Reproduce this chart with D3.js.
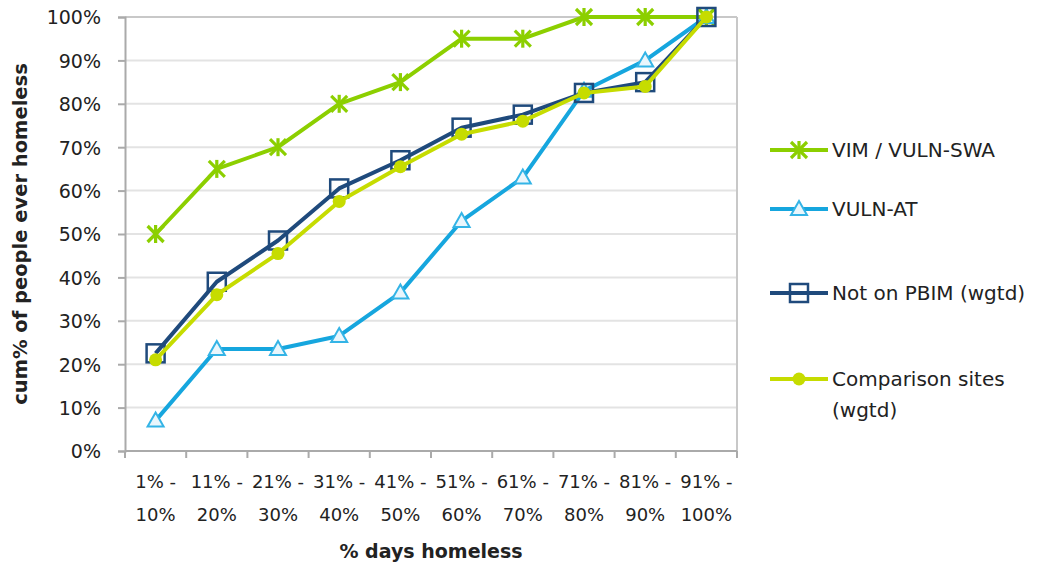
<!DOCTYPE html>
<html>
<head>
<meta charset="utf-8">
<script src="https://cdn.jsdelivr.net/npm/d3@7"></script>
<style>
  html, body { margin: 0; padding: 0; background: #fff; }
  svg { display: block; }
  text { font-family: "DejaVu Sans", sans-serif; fill: #222; }
</style>
</head>
<body>
<svg id="chart" width="1051" height="569"></svg>
<script>
// Bands of the share of days spent homeless
const categories = ["1% -|10%", "11% -|20%", "21% -|30%", "31% -|40%", "41% -|50%",
                    "51% -|60%", "61% -|70%", "71% -|80%", "81% -|90%", "91% -|100%"];

// Cumulative % of people ever homeless, per group
const vimSwa      = [50, 65, 70, 80, 85, 95, 95, 100, 100, 100];
const vulnAt      = [7, 23.5, 23.5, 26.5, 36.5, 53, 63, 83, 90, 100];
const notOnPbim   = [22.5, 39, 48.5, 60.5, 67, 74.5, 77.5, 82.5, 85, 100];
const comparison  = [21, 36, 45.5, 57.5, 65.5, 73, 76, 82.5, 84, 100];

const yTicks = [0, 10, 20, 30, 40, 50, 60, 70, 80, 90, 100];

const series = [
  { name: ["VIM / VULN-SWA"], values: vimSwa, color: "#8ccf00", marker: "star" },
  { name: ["VULN-AT"], values: vulnAt, color: "#16a6de", marker: "triangle" },
  { name: ["Not on PBIM (wgtd)"], values: notOnPbim, color: "#1f4a7c", marker: "square" },
  { name: ["Comparison sites", "(wgtd)"], values: comparison, color: "#c6dc00", marker: "circle" }
];

const svg = d3.select("#chart");
const plot = { left: 125, right: 737, top: 17, bottom: 451 };

const x = d3.scaleBand().domain(categories).range([plot.left, plot.right]);
const y = d3.scaleLinear().domain([0, 100]).range([plot.bottom, plot.top]);
const cx = c => x(c) + x.bandwidth() / 2;

// Horizontal gridlines
svg.append("g").selectAll("line").data(yTicks.filter(t => t > 0)).join("line")
  .attr("x1", plot.left).attr("x2", plot.right)
  .attr("y1", d => y(d)).attr("y2", d => y(d))
  .attr("stroke", d => d === 100 ? "#c8c8c8" : "#e3e3e3").attr("stroke-width", 2);

// Right frame edge
svg.append("line")
  .attr("x1", plot.right).attr("x2", plot.right)
  .attr("y1", plot.top).attr("y2", plot.bottom)
  .attr("stroke", "#c8c8c8").attr("stroke-width", 2);

// Y axis
const yAxis = svg.append("g").attr("transform", `translate(${plot.left},0)`)
  .call(d3.axisLeft(y).tickValues(yTicks).tickFormat(d => d + "%").tickSize(7).tickPadding(17));
yAxis.select(".domain").attr("stroke", "#aaa").attr("stroke-width", 2);
yAxis.selectAll(".tick line").attr("stroke", "#aaa").attr("stroke-width", 2);
yAxis.selectAll("text").style("font-size", "19px").attr("fill", "#222").attr("dy", "0.36em");

// X axis: ticks at band edges, two-line labels centred on bands
const xAxisG = svg.append("g");
xAxisG.append("line")
  .attr("x1", plot.left).attr("x2", plot.right)
  .attr("y1", plot.bottom).attr("y2", plot.bottom)
  .attr("stroke", "#aaa").attr("stroke-width", 2);
const edges = categories.map(c => x(c)).concat([plot.right]);
xAxisG.selectAll("line.tk").data(edges).join("line").attr("class", "tk")
  .attr("x1", d => d).attr("x2", d => d)
  .attr("y1", plot.bottom).attr("y2", plot.bottom + 7)
  .attr("stroke", "#aaa").attr("stroke-width", 2);
const xl = xAxisG.selectAll("text").data(categories).join("text")
  .attr("text-anchor", "middle").style("font-size", "18px");
xl.append("tspan").attr("x", d => cx(d)).attr("y", 488).text(d => d.split("|")[0]);
xl.append("tspan").attr("x", d => cx(d)).attr("y", 521).text(d => d.split("|")[1]);

// Axis titles
svg.append("text").attr("x", 431).attr("y", 558).attr("text-anchor", "middle")
  .style("font-size", "19px").style("font-weight", "bold").text("% days homeless");
svg.append("text").attr("transform", "translate(27,234) rotate(-90)").attr("text-anchor", "middle")
  .style("font-size", "19.5px").style("font-weight", "bold").text("cum% of people ever homeless");

// Marker drawing
function drawMarker(g, type, color) {
  if (type === "star") {
    const r = 8;
    const p = [[-r, -r, r, r], [-r, r, r, -r], [0, -r - 1, 0, r + 1]];
    p.forEach(s => g.append("line").attr("x1", s[0]).attr("y1", s[1]).attr("x2", s[2]).attr("y2", s[3])
      .attr("stroke", color).attr("stroke-width", 3.2));
  } else if (type === "triangle") {
    g.append("path").attr("d", "M0,-8L8,6L-8,6Z")
      .attr("fill", "#eaf6fc").attr("stroke", "#34b4e6").attr("stroke-width", 2);
  } else if (type === "square") {
    g.append("rect").attr("x", -9).attr("y", -9).attr("width", 18).attr("height", 18)
      .attr("fill", "none").attr("stroke", color).attr("stroke-width", 2.5);
  } else if (type === "circle") {
    g.append("circle").attr("r", 6.5).attr("fill", color);
  }
}

const line = d3.line().x(d => cx(d.c)).y(d => y(d.v));

series.forEach(s => {
  const pts = categories.map((c, i) => ({ c, v: s.values[i] }));
  const g = svg.append("g");
  g.append("path").datum(pts).attr("d", line)
    .attr("fill", "none").attr("stroke", s.color).attr("stroke-width", 4)
    .attr("stroke-linejoin", "round");
  pts.forEach(p => {
    const m = g.append("g").attr("transform", `translate(${cx(p.c)},${y(p.v)})`);
    drawMarker(m, s.marker, s.color);
  });
});

// Legend
const legendY = [150, 209, 293, 379];
series.forEach((s, i) => {
  const g = svg.append("g").attr("transform", `translate(770,${legendY[i]})`);
  g.append("line").attr("x1", 0).attr("x2", 58).attr("y1", 0).attr("y2", 0)
    .attr("stroke", s.color).attr("stroke-width", 4);
  const m = g.append("g").attr("transform", "translate(29,0)");
  drawMarker(m, s.marker, s.color);
  s.name.forEach((t, j) => {
    g.append("text").attr("x", 62).attr("y", j * 31).attr("dy", "0.36em")
      .style("font-size", "20px").text(t);
  });
});
</script>
</body>
</html>
